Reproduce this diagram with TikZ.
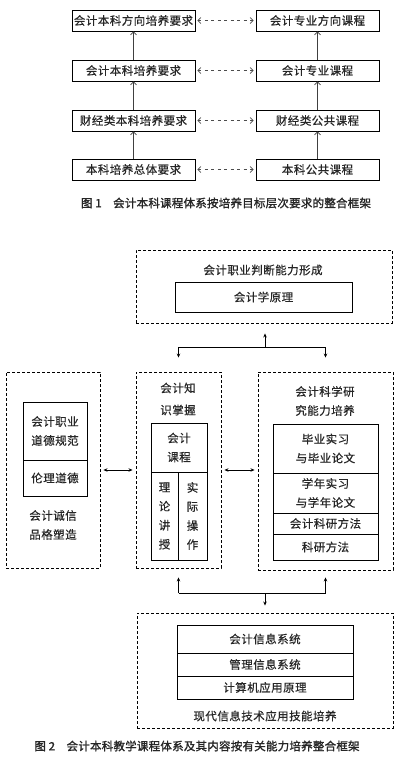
\documentclass[tikz,border=0pt]{standalone}
\usepackage{fontspec}
\setmainfont{Noto Sans CJK SC}[LetterSpace=4, FakeBold=0.5]
\newfontfamily\capfont{Noto Sans CJK SC}[FakeBold=1.5, LetterSpace=2]
\usetikzlibrary{arrows.meta}

\begin{document}
\begin{tikzpicture}[x=1pt, y=-1pt,
  every node/.style={font=\fontsize{11.5}{19}\selectfont, text=black!85},
  box/.style={draw, line width=0.8pt, inner sep=0pt},
  frame/.style={draw, line width=0.9pt, dash pattern=on 3pt off 2pt, inner sep=0pt},
  uparr/.style={-{Straight Barb[length=3pt,width=6pt]}, line width=0.7pt, black!75},
  duoarr/.style={{Straight Barb[length=3pt,width=6pt]}-{Straight Barb[length=3pt,width=6pt]},
    line width=0.7pt, black!70, dash pattern=on 3pt off 3.5pt, shorten <=2pt, shorten >=2pt},
  arr/.style={-{Stealth[length=4pt,width=3.5pt]}, line width=0.8pt},
  dblarr/.style={{Stealth[length=4pt,width=3.5pt]}-{Stealth[length=4pt,width=3.5pt]}, line width=0.8pt,
    shorten <=3pt, shorten >=3pt}]
\useasboundingbox (0,0) rectangle (400,761);

% Figure 1: requirements
\node[box, minimum width=123pt, minimum height=21pt] (req1) at (133.5,20.5) {会计本科方向培养要求};
\node[box, minimum width=123pt, minimum height=21pt] (req2) at (133.5,70.5) {会计本科培养要求};
\node[box, minimum width=123pt, minimum height=21pt] (req3) at (133.5,120.5) {财经类本科培养要求};
\node[box, minimum width=123pt, minimum height=21pt] (req4) at (133.5,169.5) {本科培养总体要求};

% Figure 1: courses
\node[box, minimum width=123pt, minimum height=21pt] (crs1) at (317.5,20.5) {会计专业方向课程};
\node[box, minimum width=123pt, minimum height=21pt] (crs2) at (317.5,70.5) {会计专业课程};
\node[box, minimum width=123pt, minimum height=21pt] (crs3) at (317.5,120.5) {财经类公共课程};
\node[box, minimum width=123pt, minimum height=21pt] (crs4) at (317.5,169.5) {本科公共课程};

% Figure 1: links
\draw[uparr] (req2) -- (req1);
\draw[uparr] (req3) -- (req2);
\draw[uparr] (req4) -- (req3);
\draw[uparr] (crs2) -- (crs1);
\draw[uparr] (crs3) -- (crs2);
\draw[uparr] (crs4) -- (crs3);
\draw[duoarr] (req1) -- (crs1);
\draw[duoarr] (req2) -- (crs2);
\draw[duoarr] (req3) -- (crs3);
\draw[duoarr] (req4) -- (crs4);

\node[font=\capfont\fontsize{11.5}{14}\selectfont] (cap1) at (226,203) {图 1\quad 会计本科课程体系按培养目标层次要求的整合框架};

% Figure 2: judgement
\node[frame, minimum width=256pt, minimum height=73pt] (judge) at (264,286.5) {};
\node (judgett) at (263,270) {会计职业判断能力形成};
\node[box, minimum width=177pt, minimum height=30pt] (principle) at (263.5,297) {会计学原理};

% Figure 2: ethics
\node[frame, minimum width=94pt, minimum height=196pt] (ethic) at (53,470) {};
\node[box, minimum width=64pt, minimum height=58pt, align=center] (ethic1) at (55,431) {会计职业\\道德规范};
\node[box, minimum width=64pt, minimum height=36pt] (ethic2) at (55,478) {伦理道德};
\node[align=center] (ethictt) at (53,525) {会计诚信\\品格塑造};

% Figure 2: knowledge
\node[frame, minimum width=85pt, minimum height=196pt] (know) at (178.5,470) {};
\node[align=center, font=\fontsize{11.5}{22}\selectfont] (knowtt) at (178,399) {会计知\\识掌握};
\node[box, minimum width=56pt, minimum height=49pt, align=center] (course) at (179,447.5) {会计\\课程};
\node[box, minimum width=27pt, minimum height=88pt, align=center] (theory) at (164.5,516) {理\\论\\讲\\授};
\node[box, minimum width=29pt, minimum height=88pt, align=center] (practice) at (192.5,516) {实\\际\\操\\作};

% Figure 2: research
\node[frame, minimum width=135pt, minimum height=198pt] (research) at (325.5,471) {};
\node[align=center] (researchtt) at (325,401) {会计科学研\\究能力培养};
\node[box, minimum width=105pt, minimum height=49pt, align=center] (res1) at (325.5,448.5) {毕业实习\\与毕业论文};
\node[box, minimum width=105pt, minimum height=40pt, align=center] (res2) at (325.5,493) {学年实习\\与学年论文};
\node[box, minimum width=105pt, minimum height=21pt] (res3) at (325.5,523.5) {会计科研方法};
\node[box, minimum width=105pt, minimum height=26pt] (res4) at (325.5,547) {科研方法};

% Figure 2: information technology
\node[frame, minimum width=256pt, minimum height=115pt] (tech) at (265,670.5) {};
\node[box, minimum width=176pt, minimum height=28pt] (tech1) at (265,639) {会计信息系统};
\node[box, minimum width=176pt, minimum height=23pt] (tech2) at (265,664.5) {管理信息系统};
\node[box, minimum width=176pt, minimum height=23pt] (tech3) at (265,687.5) {计算机应用原理};
\node (techtt) at (265,716) {现代信息技术应用技能培养};

% Figure 2: links
\coordinate (topj) at (265,347);
\coordinate (botj) at (265,593);
\draw[line width=0.8pt] (topj -| know.north) -- (topj -| research.north);
\draw[arr, shorten >=10pt] (topj) -- (topj |- judge.south);
\draw[arr, shorten >=14pt] (topj -| know.north) -- (know.north);
\draw[arr, shorten >=14pt] (topj -| research.north) -- (research.north);
\draw[line width=0.8pt] (botj -| know.south) -- (botj -| research.south);
\draw[arr, shorten >=9pt] (botj -| know.south) -- (know.south);
\draw[arr, shorten >=7pt] (botj -| research.south) -- (research.south);
\draw[arr, shorten >=7pt] (botj) -- (tech.north);
\draw[dblarr] (ethic.east) -- (know.west);
\draw[dblarr] (know.east) -- (know.east -| research.west);

\node[font=\capfont\fontsize{11.5}{14}\selectfont] (cap2) at (197,746) {图 2\quad 会计本科教学课程体系及其内容按有关能力培养整合框架};

\end{tikzpicture}
\end{document}
